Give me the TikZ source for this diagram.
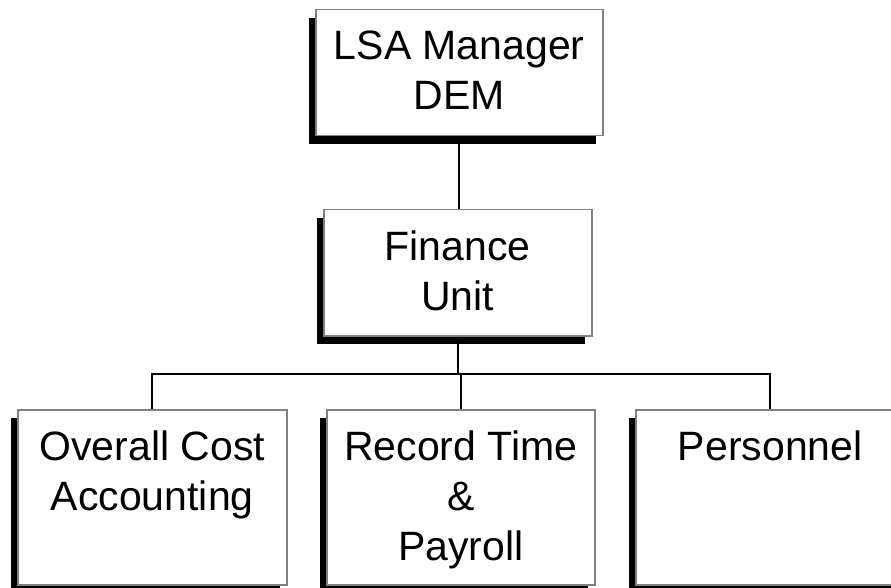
\documentclass[tikz,border=0pt]{standalone}
\usepackage{fontspec}
\setmainfont{Liberation Sans}
\usetikzlibrary{shadows}
\tikzset{>=stealth,
  unit/.style={draw=gray, line width=1.5pt, fill=white, anchor=north west, inner sep=0pt,
    drop shadow={shadow xshift=-7pt, shadow yshift=-8pt, fill=black, opacity=1}},
  txt/.style={anchor=north, align=center, inner sep=0pt, font=\fontsize{41}{50}\selectfont},
  link/.style={line width=2pt}}

\begin{document}
\begin{tikzpicture}[x=1pt, y=-1pt]
\useasboundingbox (0,0) rectangle (891,588);
\node[unit, minimum width=287pt, minimum height=126pt] (top) at (315,9) {};
\node[unit, minimum width=268pt, minimum height=126pt] (fin) at (323,209) {};
\node[unit, minimum width=269pt, minimum height=175pt] (cost) at (17,409) {};
\node[unit, minimum width=268pt, minimum height=175pt] (time) at (326,409) {};
\node[unit, minimum width=269pt, minimum height=175pt] (pers) at (635,409) {};
\node[txt] (toptxt) at ([yshift=-22pt]top.north) {LSA Manager\\DEM};
\node[txt] (fintxt) at ([yshift=-22pt]fin.north) {Finance\\Unit};
\node[txt] (costtxt) at ([yshift=-22pt]cost.north) {Overall Cost\\Accounting};
\node[txt] (timetxt) at ([yshift=-22pt]time.north) {Record Time\\\&\\Payroll};
\node[txt] (perstxt) at ([yshift=-22pt]pers.north) {Personnel};
\coordinate (bus) at (0,374);
\draw[link] (top.south) -- (top.south |- fin.north);
\draw[link] (fin.south) -- (fin.south |- bus);
\draw[link] (cost.north) |- (bus -| pers.north) -- (pers.north);
\draw[link] (time.north) -- (time.north |- bus);
\end{tikzpicture}
\end{document}
